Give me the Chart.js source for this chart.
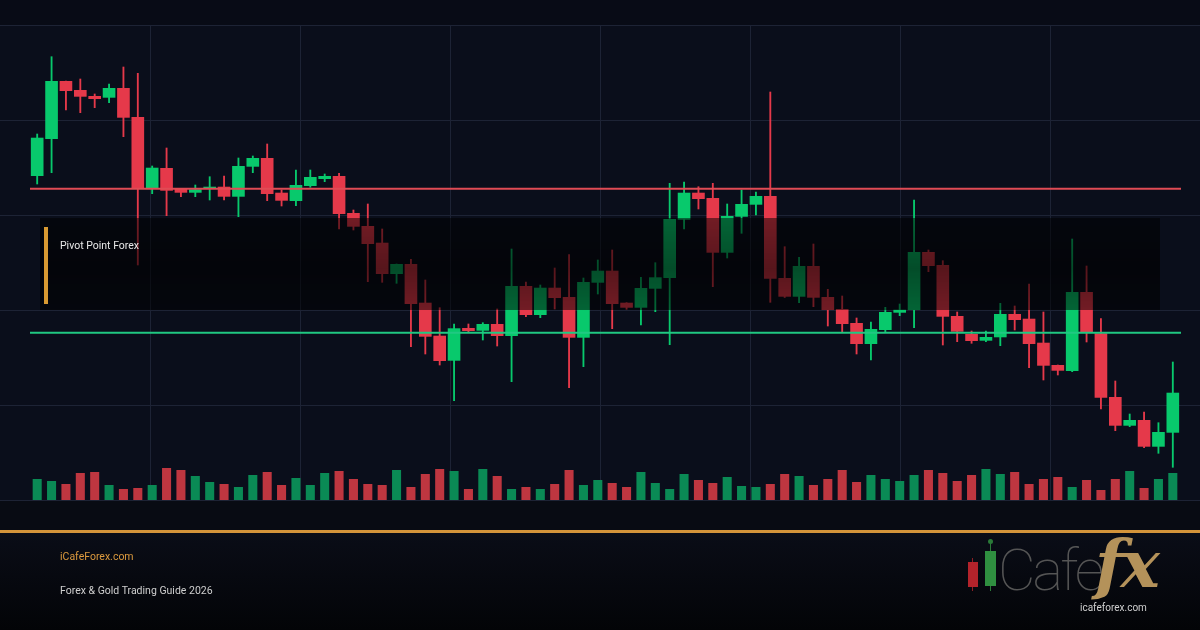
<!DOCTYPE html>
<html>
<head>
<meta charset="utf-8">
<title>Pivot Point Forex</title>
<script src="https://cdn.jsdelivr.net/npm/chart.js@4.4.1/dist/chart.umd.min.js"></script>
<style>
  html, body { margin: 0; padding: 0; background: #05070c; }
  #page {
    position: relative; width: 1200px; height: 630px; overflow: hidden;
    font-family: Roboto, "Noto Sans", sans-serif;
    background: linear-gradient(to bottom,
      #080b16 0, #080b16 25px, #0a0e1b 25px, #0a0e1b 500px,
      #080b13 500px, #080b13 533px, #0a0d17 533px, #030407 630px);
  }
  #chart { position: absolute; left: 0; top: 0; }
  #panel {
    position: absolute; left: 40px; top: 218px; width: 1120px; height: 92px;
    background: linear-gradient(to bottom, rgba(0,0,0,0.5), rgba(0,0,0,0.62) 55%, rgba(0,0,0,0.5));
  }
  #panel .bar { position: absolute; left: 4px; top: 9px; width: 4px; height: 77px; background: #d99a32; }
  #panel .label { position: absolute; left: 20px; top: 22px; font-size: 10.5px; line-height: 11px; color: #e8e8e8; }
  #rule { position: absolute; left: 0; top: 530px; width: 1200px; height: 3px; background: #d4943a; }
  .foot { position: absolute; left: 60px; font-size: 10.5px; line-height: 11px; }
  #site { top: 551px; color: #dc9a3e; }
  #guide { top: 585px; color: #cfcfcf; }
  .px { position: absolute; }
  #cafe { position: absolute; left: 998px; top: 541px; font-size: 58px; line-height: 58px;
    font-weight: 100; color: #555555; letter-spacing: -3px; }
  #fx { position: absolute; left: 1095px; top: 531px; font-family: "DejaVu Serif", serif;
    font-style: italic; font-weight: bold; font-size: 66px; line-height: 66px; color: #b4925a; letter-spacing: -3px; }
  #url { position: absolute; left: 1080px; top: 602px; font-size: 10px; line-height: 11px; color: #d0d0d0; }
</style>
</head>
<body>
<div id="page">
  <canvas id="chart" width="1200" height="630"></canvas>
  <div id="panel"><div class="bar"></div><div class="label">Pivot Point Forex</div></div>
  <div id="rule"></div>
  <div class="foot" id="site">iCafeForex.com</div>
  <div class="foot" id="guide">Forex &amp; Gold Trading Guide 2026</div>

  <div class="px" style="left:972px;top:558px;width:1px;height:33px;background:#8c1e24"></div>
  <div class="px" style="left:968px;top:562px;width:10px;height:25px;background:#b3232b"></div>
  <div class="px" style="left:990px;top:542px;width:1px;height:49px;background:#2a7a38"></div>
  <div class="px" style="left:988px;top:539px;width:5px;height:5px;border-radius:50%;background:#2a7a38"></div>
  <div class="px" style="left:985px;top:551px;width:11px;height:35px;background:#2f8f40"></div>
  <div id="cafe">Cafe</div>
  <div id="fx">fx</div>
  <div id="url">icafeforex.com</div>
</div>

<script>
// OHLC, oldest first
const opens = [
  2032.40, 2036.10, 2041.90, 2041.00, 2040.40, 2040.23, 2041.20, 2038.30, 2031.20, 2033.20,
  2031.10, 2030.73, 2031.13, 2031.33, 2030.33, 2033.33, 2034.20, 2030.73, 2029.90, 2031.40,
  2032.10, 2032.40, 2028.70, 2027.40, 2025.73, 2022.60, 2023.60, 2019.73, 2016.43, 2013.93,
  2017.20, 2016.93, 2017.60, 2016.40, 2021.40, 2018.50, 2021.23, 2020.30, 2016.23, 2021.73,
  2022.93, 2019.73, 2019.23, 2021.13, 2022.20, 2028.03, 2030.73, 2030.20, 2024.73, 2028.33,
  2029.53, 2030.40, 2022.20, 2020.33, 2023.40, 2020.30, 2019.10, 2017.70, 2015.60, 2017.00,
  2018.73, 2019.00, 2024.80, 2023.50, 2018.40, 2016.60, 2015.93, 2016.27, 2018.60, 2018.13,
  2015.73, 2013.50, 2012.90, 2020.80, 2016.67, 2010.30, 2007.43, 2008.00, 2005.33, 2006.73
];
const highs = [
  2036.60, 2044.33, 2041.90, 2042.10, 2040.60, 2041.60, 2043.30, 2042.67, 2033.40, 2035.20,
  2031.10, 2031.50, 2032.33, 2032.40, 2034.20, 2034.40, 2035.60, 2031.00, 2033.00, 2033.00,
  2032.60, 2032.67, 2029.00, 2029.60, 2027.10, 2023.60, 2024.07, 2022.00, 2019.23, 2017.60,
  2017.60, 2017.73, 2019.10, 2025.10, 2021.80, 2021.50, 2023.20, 2024.53, 2022.20, 2024.00,
  2025.00, 2019.73, 2022.27, 2023.73, 2031.67, 2031.80, 2031.33, 2031.67, 2029.60, 2031.00,
  2030.80, 2040.80, 2025.33, 2024.27, 2025.60, 2021.07, 2020.40, 2018.20, 2017.80, 2019.27,
  2019.60, 2030.00, 2025.00, 2023.93, 2018.80, 2016.90, 2016.90, 2019.67, 2019.40, 2021.60,
  2018.80, 2013.50, 2026.10, 2023.40, 2018.13, 2011.90, 2008.60, 2008.80, 2007.73, 2013.80
];
const lows = [
  2031.60, 2032.73, 2039.00, 2038.73, 2039.23, 2039.73, 2036.33, 2023.50, 2030.63, 2028.43,
  2030.33, 2030.33, 2030.00, 2030.00, 2028.33, 2032.73, 2029.93, 2029.40, 2029.43, 2031.27,
  2031.83, 2027.10, 2027.00, 2021.83, 2021.77, 2021.67, 2015.33, 2014.60, 2013.50, 2009.93,
  2016.73, 2016.00, 2015.40, 2011.83, 2018.33, 2018.23, 2019.10, 2011.23, 2013.33, 2020.60,
  2017.13, 2019.07, 2017.50, 2018.83, 2015.53, 2027.10, 2029.10, 2021.33, 2024.20, 2026.67,
  2028.50, 2019.77, 2020.25, 2019.73, 2019.33, 2017.40, 2016.83, 2014.60, 2014.00, 2016.73,
  2018.43, 2017.23, 2022.83, 2015.50, 2015.83, 2015.67, 2015.83, 2015.43, 2017.00, 2013.23,
  2012.00, 2012.50, 2012.83, 2015.80, 2009.10, 2006.93, 2007.33, 2005.23, 2004.67, 2003.27
];
const closes = [
  2036.23, 2041.90, 2040.90, 2040.33, 2040.10, 2041.20, 2038.23, 2031.17, 2033.23, 2030.93,
  2030.73, 2031.07, 2031.33, 2030.33, 2033.40, 2034.20, 2030.60, 2029.93, 2031.50, 2032.30,
  2032.40, 2028.60, 2027.33, 2025.60, 2022.60, 2023.60, 2019.60, 2016.33, 2013.90, 2017.17,
  2016.90, 2017.60, 2016.40, 2021.40, 2018.50, 2021.23, 2020.20, 2016.23, 2021.80, 2022.93,
  2019.60, 2019.23, 2021.20, 2022.27, 2028.10, 2030.73, 2030.10, 2024.73, 2028.40, 2029.60,
  2030.40, 2022.13, 2020.33, 2023.40, 2020.23, 2019.00, 2017.60, 2015.60, 2017.10, 2018.80,
  2019.03, 2024.80, 2023.40, 2018.33, 2016.83, 2015.90, 2016.30, 2018.60, 2018.00, 2015.60,
  2013.43, 2012.93, 2020.80, 2016.80, 2010.23, 2007.43, 2008.00, 2005.33, 2006.80, 2010.73
];
const volumes = [
  2100, 1900, 1600, 2700, 2800, 1500, 1100, 1200, 1500, 3200,
  3000, 2400, 1800, 1600, 1300, 2500, 2800, 1500, 2200, 1500,
  2700, 2900, 2100, 1600, 1500, 3000, 1300, 2600, 3100, 2900,
  1100, 3100, 2400, 1100, 1300, 1100, 1600, 3000, 1500, 2000,
  1700, 1300, 2800, 1700, 1100, 2600, 2000, 1700, 2300, 1400,
  1300, 1600, 2600, 2400, 1500, 2100, 3000, 1800, 2500, 2100,
  1900, 2500, 3000, 2700, 1900, 2500, 3100, 2600, 2800, 1600,
  2100, 2300, 1300, 2000, 1000, 2100, 2900, 1200, 2100, 2700
];
// pivot levels: resistance, support
const pivotPrices = [2031.12, 2016.73];

const sessions = opens.map((_, i) => 'S' + (i + 1));

const UP = '#08c96c', DOWN = '#e5394a';
const VOL_UP = '#0a8a55', VOL_DOWN = '#bf3640';
const isUp = opens.map((o, i) => closes[i] >= o);

// background grid, spans the whole width like the reference
const gridLines = {
  id: 'gridLines',
  beforeDatasetsDraw(chart) {
    const { ctx, chartArea, width } = chart;
    const rows = 5, cols = 8;
    ctx.save();
    ctx.strokeStyle = '#1d2335';
    ctx.lineWidth = 1;
    for (let k = 0; k <= rows; k++) {
      const y = Math.round(chartArea.top + k * (chartArea.bottom - chartArea.top) / rows) + 0.5;
      ctx.beginPath(); ctx.moveTo(0, y); ctx.lineTo(width, y); ctx.stroke();
    }
    for (let k = 1; k < cols; k++) {
      const x = Math.round(k * width / cols) + 0.5;
      ctx.beginPath(); ctx.moveTo(x, chartArea.top); ctx.lineTo(x, chartArea.bottom); ctx.stroke();
    }
    ctx.restore();
  }
};

// horizontal pivot lines drawn over the candles
const pivotLines = {
  id: 'pivotLines',
  afterDatasetsDraw(chart, args, opts) {
    const { ctx, chartArea, scales } = chart;
    ctx.save();
    ctx.lineWidth = 2;
    pivotPrices.forEach((p, i) => {
      const y = scales.y.getPixelForValue(p);
      ctx.strokeStyle = opts.colors[i];
      ctx.beginPath(); ctx.moveTo(chartArea.left, y); ctx.lineTo(chartArea.right + 1, y); ctx.stroke();
    });
    ctx.restore();
  }
};

new Chart(document.getElementById('chart'), {
  type: 'bar',
  data: {
    labels: sessions,
    datasets: [
      {
        label: 'Body',
        data: opens.map((o, i) => [o, closes[i]]),
        backgroundColor: isUp.map(u => u ? UP : DOWN),
        barPercentage: 0.88,
        categoryPercentage: 1,
        minBarLength: 2,
        grouped: false,
        yAxisID: 'y'
      },
      {
        label: 'Wick',
        data: lows.map((l, i) => [l, highs[i]]),
        backgroundColor: isUp.map(u => u ? UP : DOWN),
        barThickness: 1.2,
        grouped: false,
        yAxisID: 'y'
      },
      {
        label: 'Volume',
        data: volumes,
        backgroundColor: isUp.map(u => u ? VOL_UP : VOL_DOWN),
        barPercentage: 0.63,
        categoryPercentage: 1,
        grouped: false,
        yAxisID: 'vol'
      }
    ]
  },
  options: {
    responsive: false,
    animation: false,
    devicePixelRatio: 1,
    layout: { padding: { left: 30, right: 20, top: 25, bottom: 130 } },
    scales: {
      x: { display: false, offset: true, grid: { display: false } },
      y: { display: false, min: 2000, max: 2047.5 },
      vol: { display: false, min: 0, max: 47500 }
    },
    plugins: {
      legend: { display: false },
      tooltip: { enabled: false },
      pivotLines: { colors: ['#e04b55', '#20c882'] }
    }
  },
  plugins: [gridLines, pivotLines]
});
</script>
</body>
</html>
